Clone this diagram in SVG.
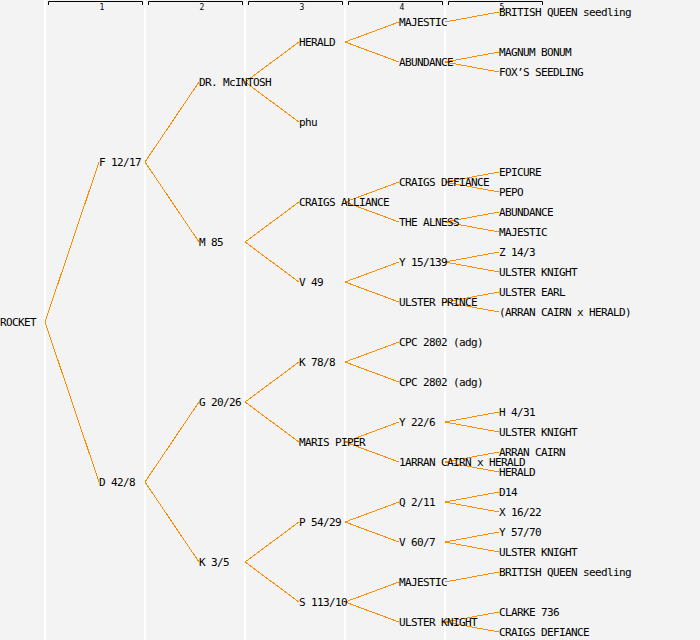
<svg xmlns="http://www.w3.org/2000/svg" width="700" height="640" viewBox="0 0 700 640">
<style>
.t{font-family:"DejaVu Sans Mono","Liberation Mono",monospace;font-size:11px;letter-spacing:-0.62px;fill:#000}
.h{font-family:"DejaVu Sans Mono","Liberation Mono",monospace;font-size:8px;fill:#000;text-anchor:middle}
.c{stroke:#ff8c00;stroke-width:1;fill:none;shape-rendering:crispEdges}
.g{stroke:#ffffff;stroke-width:2}
.b{stroke:#000;stroke-width:1;fill:none}
</style>
<rect width="700" height="640" fill="#f3f3f3"/>
<g id="grid">
<line class="g" x1="45" y1="0" x2="45" y2="640"/>
<line class="g" x1="145" y1="0" x2="145" y2="640"/>
<line class="g" x1="245" y1="0" x2="245" y2="640"/>
<line class="g" x1="345" y1="0" x2="345" y2="640"/>
<line class="g" x1="445" y1="0" x2="445" y2="640"/>
</g>
<g id="header">
<path class="b" d="M48.5,5V1.5H142.5V5"/><text class="h" x="102" y="9.5">1</text>
<path class="b" d="M148.5,5V1.5H242.5V5"/><text class="h" x="202" y="9.5">2</text>
<path class="b" d="M248.5,5V1.5H342.5V5"/><text class="h" x="302" y="9.5">3</text>
<path class="b" d="M348.5,5V1.5H442.5V5"/><text class="h" x="402" y="9.5">4</text>
<path class="b" d="M448.5,5V1.5H542.5V5"/><text class="h" x="502" y="9.5">5</text>
</g>
<g id="connectors">
<path class="c" d="M45,322L99,162M45,322L99,482"/>
<path class="c" d="M145,162L199,82M145,162L199,242M145,482L199,402M145,482L199,562"/>
<path class="c" d="M245,82L299,42M245,82L299,122M245,242L299,202M245,242L299,282M245,402L299,362M245,402L299,442M245,562L299,522M245,562L299,602"/>
<path class="c" d="M345,42L399,22M345,42L399,62M345,202L399,182M345,202L399,222M345,282L399,262M345,282L399,302M345,362L399,342M345,362L399,382M345,442L399,422M345,442L399,462M345,522L399,502M345,522L399,542M345,602L399,582M345,602L399,622"/>
<path class="c" d="M445,22L499,12M445,62L499,52M445,62L499,72M445,182L499,172M445,182L499,192M445,222L499,212M445,222L499,232M445,262L499,252M445,262L499,272M445,302L499,292M445,302L499,312M445,422L499,412M445,422L499,432M445,462L499,452M445,462L499,472M445,502L499,492M445,502L499,512M445,542L499,532M445,542L499,552M445,582L499,572M445,622L499,612M445,622L499,632"/>
</g>
<g id="n-rocket"><text class="t" x="0" y="326">ROCKET</text></g>
<g id="n-f1217"><text class="t" x="99" y="166">F 12/17</text></g>
<g id="n-d428"><text class="t" x="99" y="486">D 42/8</text></g>
<g id="n-drmcintosh"><text class="t" x="199" y="86">DR. McINTOSH</text></g>
<g id="n-m85"><text class="t" x="199" y="246">M 85</text></g>
<g id="n-g2026"><text class="t" x="199" y="406">G 20/26</text></g>
<g id="n-k35"><text class="t" x="199" y="566">K 3/5</text></g>
<g id="n-herald"><text class="t" x="299" y="46">HERALD</text></g>
<g id="n-phu"><text class="t" x="299" y="126">phu</text></g>
<g id="n-craigsalliance"><text class="t" x="299" y="206">CRAIGS ALLIANCE</text></g>
<g id="n-v49"><text class="t" x="299" y="286">V 49</text></g>
<g id="n-k788"><text class="t" x="299" y="366">K 78/8</text></g>
<g id="n-marispiper"><text class="t" x="299" y="446">MARIS PIPER</text></g>
<g id="n-p5429"><text class="t" x="299" y="526">P 54/29</text></g>
<g id="n-s11310"><text class="t" x="299" y="606">S 113/10</text></g>
<g id="n-majestic1"><text class="t" x="399" y="26">MAJESTIC</text></g>
<g id="n-abundance1"><text class="t" x="399" y="66">ABUNDANCE</text></g>
<g id="n-craigsdefiance1"><text class="t" x="399" y="186">CRAIGS DEFIANCE</text></g>
<g id="n-thealness"><text class="t" x="399" y="226">THE ALNESS</text></g>
<g id="n-y15139"><text class="t" x="399" y="266">Y 15/139</text></g>
<g id="n-ulsterprince"><text class="t" x="399" y="306">ULSTER PRINCE</text></g>
<g id="n-cpc1"><text class="t" x="399" y="346">CPC 2802 (adg)</text></g>
<g id="n-cpc2"><text class="t" x="399" y="386">CPC 2802 (adg)</text></g>
<g id="n-y226"><text class="t" x="399" y="426">Y 22/6</text></g>
<g id="n-1arran"><text class="t" x="399" y="466">1ARRAN CAIRN x HERALD</text></g>
<g id="n-q211"><text class="t" x="399" y="506">Q 2/11</text></g>
<g id="n-v607"><text class="t" x="399" y="546">V 60/7</text></g>
<g id="n-majestic2"><text class="t" x="399" y="586">MAJESTIC</text></g>
<g id="n-ulsterknight1"><text class="t" x="399" y="626">ULSTER KNIGHT</text></g>
<g id="n-bq1"><text class="t" x="499" y="16">BRITISH QUEEN seedling</text></g>
<g id="n-magnumbonum"><text class="t" x="499" y="56">MAGNUM BONUM</text></g>
<g id="n-foxs"><text class="t" x="499" y="76">FOX’S SEEDLING</text></g>
<g id="n-epicure"><text class="t" x="499" y="176">EPICURE</text></g>
<g id="n-pepo"><text class="t" x="499" y="196">PEPO</text></g>
<g id="n-abundance2"><text class="t" x="499" y="216">ABUNDANCE</text></g>
<g id="n-majestic3"><text class="t" x="499" y="236">MAJESTIC</text></g>
<g id="n-z143"><text class="t" x="499" y="256">Z 14/3</text></g>
<g id="n-ulsterknight2"><text class="t" x="499" y="276">ULSTER KNIGHT</text></g>
<g id="n-ulsterearl"><text class="t" x="499" y="296">ULSTER EARL</text></g>
<g id="n-arranxherald"><text class="t" x="499" y="316">(ARRAN CAIRN x HERALD)</text></g>
<g id="n-h431"><text class="t" x="499" y="416">H 4/31</text></g>
<g id="n-ulsterknight3"><text class="t" x="499" y="436">ULSTER KNIGHT</text></g>
<g id="n-arrancairn"><text class="t" x="499" y="456">ARRAN CAIRN</text></g>
<g id="n-herald2"><text class="t" x="499" y="476">HERALD</text></g>
<g id="n-d14"><text class="t" x="499" y="496">D14</text></g>
<g id="n-x1622"><text class="t" x="499" y="516">X 16/22</text></g>
<g id="n-y5770"><text class="t" x="499" y="536">Y 57/70</text></g>
<g id="n-ulsterknight4"><text class="t" x="499" y="556">ULSTER KNIGHT</text></g>
<g id="n-bq2"><text class="t" x="499" y="576">BRITISH QUEEN seedling</text></g>
<g id="n-clarke736"><text class="t" x="499" y="616">CLARKE 736</text></g>
<g id="n-craigsdefiance2"><text class="t" x="499" y="636">CRAIGS DEFIANCE</text></g>
</svg>
